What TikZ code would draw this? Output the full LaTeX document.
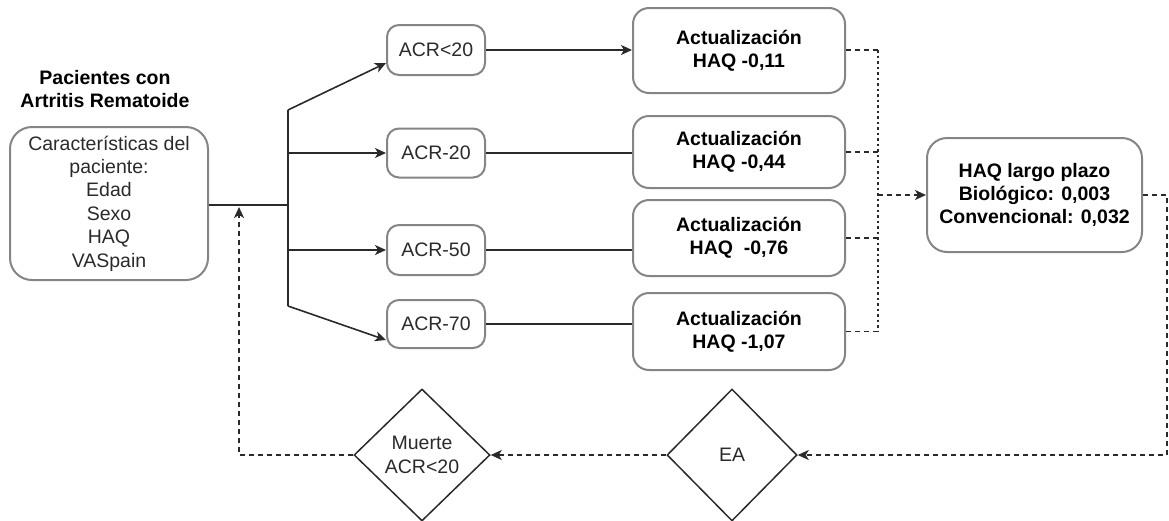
\documentclass[tikz,border=0pt]{standalone}
\usepackage{fontspec}
\setmainfont{Liberation Sans}
\usetikzlibrary{shapes.geometric,arrows.meta}
\definecolor{boxgray}{HTML}{858585}
\definecolor{txt}{HTML}{2A2A2A}
\tikzset{
  every node/.style={font=\fontsize{19.5}{23.4}\selectfont, text=txt},
  rbox/.style={draw=boxgray, line width=2pt, rounded corners=12pt, align=center, inner sep=0pt},
  dmd/.style={draw=txt, line width=1.5pt, diamond, inner sep=0pt, align=center},
  conn/.style={draw=txt, line width=1.6pt},
  arr/.style={conn, -{Stealth[length=11pt,width=10pt,inset=3pt]}},
  dsh/.style={conn, dash pattern=on 5pt off 4pt},
  dot/.style={conn, dash pattern=on 2.5pt off 3pt},
  darr/.style={dsh, -{Stealth[length=11pt,width=10pt,inset=3pt]}},
}
\begin{document}
\begin{tikzpicture}[x=1pt,y=-1pt]
\useasboundingbox (0,0) rectangle (1169,520);
% title
\node[font=\fontsize{19.5}{23.4}\selectfont\bfseries, align=center, text=black] (title) at (105,89) {Pacientes con\\Artritis Rematoide};
% patient box
\node[rbox, rounded corners=22pt, minimum width=198pt, minimum height=153pt] (pat) at (109,203.5)
  {Características del\\paciente:\\Edad\\Sexo\\HAQ\\VASpain};
% ACR boxes
\node[rbox, minimum width=98pt, minimum height=50pt] (a1) at (436,50) {ACR<20};
\node[rbox, minimum width=98pt, minimum height=49pt] (a2) at (436,153) {ACR-20};
\node[rbox, minimum width=98pt, minimum height=50pt] (a3) at (436,250) {ACR-50};
\node[rbox, minimum width=98pt, minimum height=48pt] (a4) at (436,324) {ACR-70};
% update boxes
\node[rbox, rounded corners=16pt, minimum width=212pt, minimum height=85pt, font=\fontsize{19.5}{23.4}\selectfont\bfseries, text=black] (u1) at (739,50.5) {Actualización\\HAQ -0,11};
\node[rbox, rounded corners=16pt, minimum width=212pt, minimum height=72pt, font=\fontsize{19.5}{23.4}\selectfont\bfseries, text=black] (u2) at (739,152) {Actualización\\HAQ -0,44};
\node[rbox, rounded corners=16pt, minimum width=212pt, minimum height=76pt, font=\fontsize{19.5}{23.4}\selectfont\bfseries, text=black] (u3) at (739,238) {Actualización\\HAQ \ -0,76};
\node[rbox, rounded corners=16pt, minimum width=212pt, minimum height=77pt, font=\fontsize{19.5}{23.4}\selectfont\bfseries, text=black] (u4) at (739,331.5) {Actualización\\HAQ -1,07};
% HAQ long term
\node[rbox, rounded corners=20pt, minimum width=215pt, minimum height=114pt, font=\fontsize{19.5}{23.4}\selectfont\bfseries, text=black] (haq) at (1034.5,195) {HAQ largo plazo\\Biológico: 0,003\\Convencional: 0,032};
% diamonds
\node[dmd, minimum width=130pt, minimum height=132pt] (ea) at (732,455) {EA};
\node[dmd, minimum width=136pt, minimum height=132pt] (mu) at (422,455) {Muerte\\ACR<20};
% coordinates
\coordinate (j0) at (288,205);
\coordinate (jtop) at (288,110);
\coordinate (j2) at (288,153);
\coordinate (j3) at (288,250);
\coordinate (jbot) at (288,306);
\coordinate (v1) at (878,50);
\coordinate (v4) at (878,332);
\coordinate (vm) at (878,195);
\coordinate (r1) at (1167,195);
\coordinate (r2) at (1167,455);
\coordinate (l1) at (239,455);
\coordinate (l2) at (239,207);
% connectors
\draw[conn] (pat.east |- j0) -- (j0);
\draw[conn] (jtop) -- (jbot);
\draw[arr] (jtop) -- ([yshift=-13pt]a1.west);
\draw[arr] (j2) -- (a2.west);
\draw[arr] (j3) -- (a3.west);
\draw[arr] (jbot) -- ([yshift=-16pt]a4.west);
\draw[arr] (a1.east) -- (u1.west |- a1.east);
\draw[conn] (a2.east) -- (u2.west |- a2.east);
\draw[conn] (a3.east) -- (u3.west |- a3.east);
\draw[conn] (a4.east) -- (u4.west |- a4.east);
\draw[dsh] (u1.east |- v1) -- (v1);
\draw[dsh] (u2.east) -- (u2.east -| v1);
\draw[dsh] (u3.east) -- (u3.east -| v1);
\draw[dsh] (u4.east) -- (u4.east -| v1);
\draw[dot] (v1) -- (v4);
\draw[darr] (vm) -- (haq.west);
\draw[darr] (haq.east) -- (r1) -- (r2) -- (ea.east);
\draw[darr] (ea.west) -- (mu.east);
\draw[darr] (mu.west) -- (l1) -- (l2);
\end{tikzpicture}
\end{document}
